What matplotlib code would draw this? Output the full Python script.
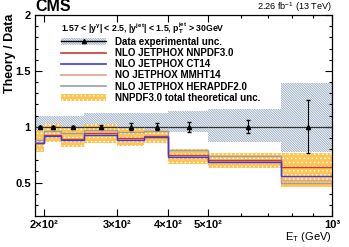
import numpy as np
import matplotlib
matplotlib.use("Agg")
import matplotlib.pyplot as plt
from matplotlib.lines import Line2D
from matplotlib.patches import Patch
from matplotlib.ticker import FixedLocator, FixedFormatter, NullFormatter

plt.rcParams.update({
    "font.family": "Liberation Sans",
    "font.weight": "bold",
    "mathtext.fontset": "custom",
    "mathtext.rm": "Liberation Sans:bold",
    "mathtext.it": "Liberation Sans:bold",
    "mathtext.bf": "Liberation Sans:bold",
    "mathtext.default": "regular",
    "hatch.linewidth": 0.6,
})

# bin edges in E_T (GeV)
edges = np.array([190, 200, 220, 250, 300, 350, 400, 500, 750, 1000])
centers = 0.5 * (edges[:-1] + edges[1:])
halfw = 0.5 * np.diff(edges)

# data (ratio = 1 by construction)
data_ratio = np.ones(9)
data_stat = [0.008, 0.008, 0.01, 0.012, 0.03, 0.03, 0.045, 0.06, 0.24]
data_unc_up = [1.10, 1.10, 1.10, 1.125, 1.125, 1.125, 1.14, 1.16, 1.39]
data_unc_dn = [0.95, 0.95, 0.95, 0.95, 0.95, 0.95, 0.95, 0.86, 0.77]

# theory / data
nnpdf = [0.85, 0.93, 0.89, 0.94, 0.90, 0.92, 0.75, 0.70, 0.64]
ct14 = [0.85, 0.92, 0.88, 0.93, 0.88, 0.91, 0.73, 0.68, 0.56]
mmht = [0.86, 0.93, 0.89, 0.94, 0.89, 0.91, 0.74, 0.69, 0.52]
hera = [0.88, 0.96, 0.94, 0.97, 0.95, 0.96, 0.79, 0.74, 0.50]
nnpdf_up = [0.96, 1.02, 0.99, 1.02, 0.99, 0.97, 0.80, 0.76, 0.76]
nnpdf_dn = [0.77, 0.86, 0.82, 0.85, 0.83, 0.85, 0.67, 0.63, 0.46]

C_HATCH = "#93a7c0"
C_ORANGE = "#ffc452"
C_RED = "#c83a32"
C_BLUE = "#3a3ae6"
C_SALMON = "#e0a090"
C_GRAY = "#95a0a8"
H_DATA = "\\" * 14
H_TH = "...."

fig = plt.figure(figsize=(3.49, 2.47), dpi=100)
ax = fig.add_axes([0.1003, 0.1255, 0.851, 0.8135])

# experimental uncertainty band
ax.stairs(data_unc_up, edges, baseline=data_unc_dn, fill=True,
          facecolor="none", edgecolor=C_HATCH, hatch=H_DATA, lw=0, zorder=1)
# NNPDF total theory band
ax.stairs(nnpdf_up, edges, baseline=nnpdf_dn, fill=True,
          facecolor=C_ORANGE, edgecolor="white", hatch=H_TH, lw=0, zorder=2)

for vals, col in [(hera, C_GRAY), (mmht, C_SALMON), (nnpdf, C_RED), (ct14, C_BLUE)]:
    ax.stairs(vals, edges, baseline=None, color=col, lw=1.0, zorder=3)

ax.errorbar(centers, data_ratio, xerr=halfw, fmt="none", ecolor="#333333",
            elinewidth=0.9, zorder=4)
ax.errorbar(centers, data_ratio, yerr=data_stat, fmt="^", color="black",
            ms=3, elinewidth=0.8, capsize=1.2, zorder=5)

ax.set_xscale("log")
ax.set_xlim(190, 1000)
ax.set_ylim(0.2, 2.0)

ax.xaxis.set_major_locator(FixedLocator([200, 300, 400, 500, 1000]))
ax.xaxis.set_major_formatter(FixedFormatter(["2×10²", "3×10²", "4×10²", "5×10²", "10³"]))
ax.xaxis.set_minor_locator(FixedLocator([600, 700, 800, 900]))
ax.xaxis.set_minor_formatter(NullFormatter())
ax.yaxis.set_major_locator(FixedLocator([0.5, 1.0, 1.5, 2.0]))
ax.yaxis.set_major_formatter(FixedFormatter(["0.5", "1", "1.5", "2"]))
ax.yaxis.set_minor_locator(FixedLocator(np.arange(0.3, 2.0, 0.1)))
ax.tick_params(which="both", direction="in", top=True, right=True,
               labelsize=8, width=0.8, pad=3)
ax.tick_params(which="major", length=5)
ax.tick_params(which="minor", length=2.5)
for sp in ax.spines.values():
    sp.set_linewidth(0.9)

fig.text(10 / 349, 1 - 14 / 247, "Theory / Data", fontsize=9, rotation=90,
         ha="center", va="top")
ax.set_xlabel("E$_T$ (GeV)", fontsize=8, loc="right", labelpad=0)

fig.text(0.1003, 0.942, "CMS", fontsize=11.5, fontweight="bold", ha="left", va="bottom")
fig.text(0.9513, 0.945, "2.26 fb$^{-1}$ (13 TeV)", fontsize=6.6, fontweight="normal",
         ha="right", va="bottom")

data_handle = (Patch(facecolor="none", edgecolor=C_HATCH, hatch=H_DATA, lw=0),
               Line2D([], [], color="black", marker="^", ms=3, lw=1))
handles = [
    data_handle,
    Line2D([], [], color=C_RED, lw=1.2),
    Line2D([], [], color=C_BLUE, lw=1.2),
    Line2D([], [], color=C_SALMON, lw=1.2),
    Line2D([], [], color=C_GRAY, lw=1.2),
    Patch(facecolor=C_ORANGE, edgecolor="white", hatch=H_TH, lw=0),
]
labels = [
    "Data experimental unc.",
    "NLO JETPHOX NNPDF3.0",
    "NLO JETPHOX CT14",
    "NO JETPHOX MMHT14",
    "NLO JETPHOX HERAPDF2.0",
    "NNPDF3.0 total theoretical unc.",
]
leg = ax.legend(handles, labels, loc="upper left", bbox_to_anchor=(0.088, 0.975),
                title=r"1.57 < |y$^{\gamma}$| < 2.5, |y$^{jet}$| < 1.5, p$_T^{jet}$ > 30GeV",
                title_fontsize=6.3, fontsize=7, frameon=False, borderpad=0,
                borderaxespad=0, handlelength=4.6, handletextpad=0.93,
                labelspacing=0.12, alignment="left")

fig.savefig("out.png", dpi=100)
